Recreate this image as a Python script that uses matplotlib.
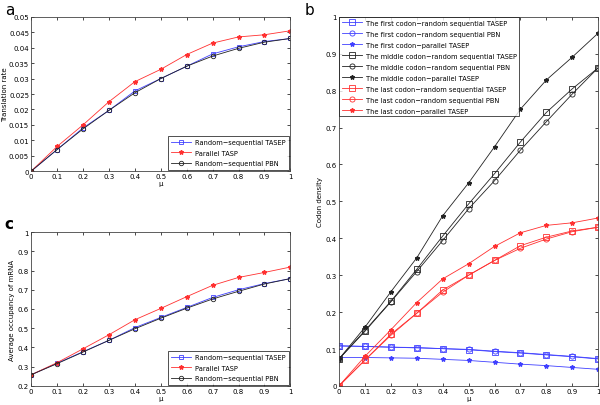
import numpy as np
import matplotlib
matplotlib.use('Agg')
import matplotlib.pyplot as plt
from matplotlib.ticker import FormatStrFormatter, MultipleLocator

mu = [0, 0.1, 0.2, 0.3, 0.4, 0.5, 0.6, 0.7, 0.8, 0.9, 1.0]

# panel a: translation rate
rate_tasep = [0, 0.007, 0.014, 0.0197, 0.026, 0.030, 0.034, 0.038, 0.0403, 0.042, 0.043]
rate_parallel = [0, 0.008, 0.015, 0.0225, 0.029, 0.033, 0.0378, 0.0415, 0.0435, 0.0442, 0.0455]
rate_pbn = [0, 0.007, 0.0137, 0.0197, 0.0254, 0.030, 0.034, 0.0373, 0.0398, 0.0418, 0.043]

# panel c: average occupancy
occ_tasep = [0.258, 0.318, 0.378, 0.437, 0.503, 0.556, 0.608, 0.660, 0.700, 0.732, 0.758]
occ_parallel = [0.258, 0.321, 0.393, 0.466, 0.544, 0.603, 0.664, 0.723, 0.764, 0.790, 0.818]
occ_pbn = [0.258, 0.316, 0.376, 0.437, 0.497, 0.552, 0.604, 0.652, 0.692, 0.730, 0.758]

# panel b: codon density
first_tasep = [0.108, 0.107, 0.105, 0.103, 0.101, 0.098, 0.093, 0.089, 0.084, 0.079, 0.073]
first_pbn = [0.109, 0.107, 0.105, 0.104, 0.101, 0.099, 0.094, 0.090, 0.085, 0.080, 0.074]
first_parallel = [0.077, 0.077, 0.076, 0.075, 0.072, 0.069, 0.064, 0.059, 0.055, 0.050, 0.045]
middle_tasep = [0.073, 0.150, 0.229, 0.316, 0.406, 0.493, 0.575, 0.661, 0.741, 0.805, 0.862]
middle_pbn = [0.073, 0.148, 0.228, 0.310, 0.394, 0.480, 0.556, 0.639, 0.716, 0.791, 0.862]
middle_parallel = [0.073, 0.159, 0.255, 0.347, 0.461, 0.550, 0.648, 0.750, 0.829, 0.891, 0.956]
last_tasep = [0, 0.070, 0.140, 0.197, 0.260, 0.300, 0.340, 0.380, 0.403, 0.420, 0.430]
last_pbn = [0, 0.070, 0.137, 0.197, 0.254, 0.300, 0.340, 0.373, 0.398, 0.418, 0.430]
last_parallel = [0, 0.080, 0.152, 0.226, 0.290, 0.331, 0.378, 0.415, 0.435, 0.442, 0.455]

FS = 5.0
LEG_FS = 4.8
LW = 0.6
MS = 3.2


def style_axes(ax, ystep):
    ax.set_xlim(0, 1)
    ax.xaxis.set_major_locator(MultipleLocator(0.1))
    ax.yaxis.set_major_locator(MultipleLocator(ystep))
    ax.xaxis.set_major_formatter(FormatStrFormatter('%g'))
    ax.yaxis.set_major_formatter(FormatStrFormatter('%g'))
    ax.tick_params(direction='in', length=2.5, width=0.5, labelsize=FS, pad=1.5,
                   top=True, right=True)
    for s in ax.spines.values():
        s.set_linewidth(0.6)
        s.set_color('#444444')


def three_series(ax, tasep, parallel, pbn, pbn_label):
    ax.plot(mu, tasep, color='#4040ff', lw=LW, marker='s', ms=MS, mfc='none',
            mew=0.6, label='Random\u2212sequential TASEP')
    ax.plot(mu, parallel, color='#ff3030', lw=LW, marker='*', ms=MS,
            label='Parallel TASP')
    ax.plot(mu, pbn, color='#222222', lw=LW, marker='o', ms=MS, mfc='none',
            mew=0.6, label=pbn_label)
    leg = ax.legend(loc='lower right', fontsize=LEG_FS, frameon=True, fancybox=False,
                    edgecolor='black', borderpad=0.5, labelspacing=0.7,
                    handlelength=3.0, handletextpad=0.6, borderaxespad=0.2)
    leg.get_frame().set_linewidth(0.6)


fig = plt.figure(figsize=(6.0, 4.06), dpi=100)

# panel a
ax_a = fig.add_axes([0.052, 0.576, 0.432, 0.380])
three_series(ax_a, rate_tasep, rate_parallel, rate_pbn, 'Random\u2212sequential PBN')
style_axes(ax_a, 0.005)
ax_a.set_ylim(0, 0.05)
ax_a.set_xlabel('\u03bc', fontsize=FS, labelpad=0.5)
ax_a.set_ylabel('Translation rate', fontsize=FS, labelpad=1)
fig.text(0.008, 0.975, 'a', fontsize=11, va='center')

# panel c
ax_c = fig.add_axes([0.052, 0.047, 0.432, 0.379])
three_series(ax_c, occ_tasep, occ_parallel, occ_pbn, 'Random\u2212sequential PBN')
style_axes(ax_c, 0.1)
ax_c.set_ylim(0.2, 1)
ax_c.set_xlabel('\u03bc', fontsize=FS, labelpad=0.5)
ax_c.set_ylabel('Average occupancy of mRNA', fontsize=FS, labelpad=2)
fig.text(0.008, 0.448, 'c', fontsize=11, va='center', fontweight='bold')

# panel b
ax_b = fig.add_axes([0.565, 0.047, 0.432, 0.909])
groups = [
    ('first', '#4040ff', first_tasep, first_pbn, first_parallel),
    ('middle', '#222222', middle_tasep, middle_pbn, middle_parallel),
    ('last', '#ff3030', last_tasep, last_pbn, last_parallel),
]
for name, col, tasep, pbn, par in groups:
    ax_b.plot(mu, tasep, color=col, lw=LW, marker='s', ms=MS + 0.5, mfc='none',
              mew=0.6, label='The %s codon\u2212random sequential TASEP' % name)
    ax_b.plot(mu, pbn, color=col, lw=LW, marker='o', ms=MS + 0.5, mfc='none',
              mew=0.6, label='The %s codon\u2212random sequential PBN' % name)
    ax_b.plot(mu, par, color=col, lw=LW, marker='*', ms=MS,
              label='The %s codon\u2212parallel TASEP' % name)
style_axes(ax_b, 0.1)
ax_b.set_ylim(0, 1)
ax_b.set_xlabel('\u03bc', fontsize=FS, labelpad=0.5)
ax_b.set_ylabel('Codon density', fontsize=FS, labelpad=2)
leg = ax_b.legend(loc='upper left', fontsize=LEG_FS, frameon=True, fancybox=False,
                  edgecolor='black', borderpad=0.4, labelspacing=0.75,
                  handlelength=3.0, handletextpad=0.6, borderaxespad=0.0)
leg.get_frame().set_linewidth(0.6)
fig.text(0.508, 0.975, 'b', fontsize=11, va='center')

fig.savefig('out.png', dpi=100)
